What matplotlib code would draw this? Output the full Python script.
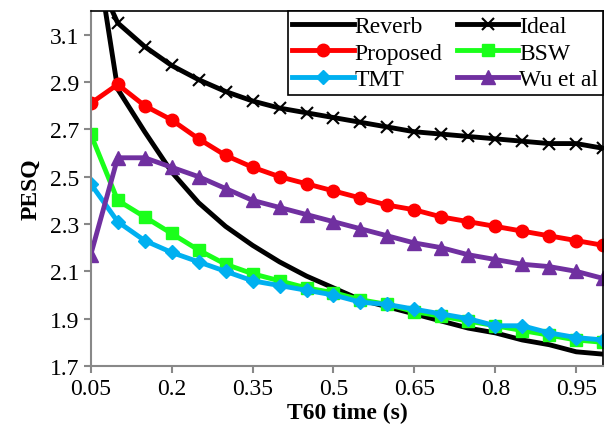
import numpy as np
import matplotlib.pyplot as plt

plt.rcParams['font.family'] = ['Liberation Serif', 'DejaVu Serif']

t60 = np.round(np.arange(0.05, 1.0001, 0.05), 2)

reverb = [3.60, 2.87, 2.69, 2.52, 2.39, 2.29, 2.21, 2.14, 2.08, 2.03,
          1.98, 1.95, 1.92, 1.89, 1.86, 1.84, 1.81, 1.79, 1.76, 1.75]
ideal = [3.40, 3.15, 3.05, 2.97, 2.91, 2.86, 2.82, 2.79, 2.77, 2.75,
         2.73, 2.71, 2.69, 2.68, 2.67, 2.66, 2.65, 2.64, 2.64, 2.62]
proposed = [2.81, 2.89, 2.80, 2.74, 2.66, 2.59, 2.54, 2.50, 2.47, 2.44,
            2.41, 2.38, 2.36, 2.33, 2.31, 2.29, 2.27, 2.25, 2.23, 2.21]
bsw = [2.68, 2.40, 2.33, 2.26, 2.19, 2.13, 2.09, 2.06, 2.03, 2.01,
       1.98, 1.96, 1.93, 1.91, 1.89, 1.87, 1.85, 1.83, 1.81, 1.80]
tmt = [2.47, 2.31, 2.23, 2.18, 2.14, 2.10, 2.06, 2.04, 2.02, 2.00,
       1.97, 1.96, 1.94, 1.92, 1.90, 1.87, 1.87, 1.84, 1.82, 1.81]
wu = [2.17, 2.58, 2.58, 2.54, 2.50, 2.45, 2.40, 2.37, 2.34, 2.31,
      2.28, 2.25, 2.22, 2.20, 2.17, 2.15, 2.13, 2.12, 2.10, 2.07]

xticks = [0.05, 0.2, 0.35, 0.5, 0.65, 0.8, 0.95]
xtick_labels = ['0.05', '0.2', '0.35', '0.5', '0.65', '0.8', '0.95']
yticks = [1.7, 1.9, 2.1, 2.3, 2.5, 2.7, 2.9, 3.1]

fig = plt.figure(figsize=(6.13, 4.31), dpi=100)
ax = fig.add_axes([0.148, 0.1485, 0.836, 0.8235])

lw = 3.5
h_rev, = ax.plot(t60, reverb, color='black', lw=lw, label='Reverb')
h_ide, = ax.plot(t60, ideal, color='black', lw=lw, marker='x', ms=9, mew=1.5, label='Ideal')
h_pro, = ax.plot(t60, proposed, color='#ff0000', lw=lw, marker='o', ms=9, label='Proposed')
h_bsw, = ax.plot(t60, bsw, color='#1aff1a', lw=lw, marker='s', ms=9, label='BSW')
h_tmt, = ax.plot(t60, tmt, color='#00b0f0', lw=lw, marker='D', ms=7, label='TMT')
h_wu, = ax.plot(t60, wu, color='#7030a0', lw=lw, marker='^', ms=10, label='Wu et al')

ax.set_xlim(0.05, 1.0)
ax.set_ylim(1.7, 3.2)
ax.set_xticks(xticks)
ax.set_xticklabels(xtick_labels)
ax.set_yticks(yticks)
ax.set_yticklabels(['%.1f' % v for v in yticks])
ax.tick_params(labelsize=17, direction='out', length=5, color='#888888', width=1.5)

for s in ['left', 'bottom']:
    ax.spines[s].set_color('#888888')
    ax.spines[s].set_linewidth(1.5)
for s in ['top', 'right']:
    ax.spines[s].set_color('black')
    ax.spines[s].set_linewidth(1.2)

ax.set_xlabel('T60 time (s)', fontsize=17, fontweight='bold', labelpad=2)
ax.set_ylabel('PESQ', fontsize=17, fontweight='bold', labelpad=6)

# row-wise order like the original: Reverb/Ideal, Proposed/BSW, TMT/Wu
handles = [h_rev, h_pro, h_tmt, h_ide, h_bsw, h_wu]
leg = ax.legend(handles=handles, labels=[h.get_label() for h in handles],
                ncol=2, loc='upper right', bbox_to_anchor=(1.0, 1.0), fontsize=17,
                frameon=True, fancybox=False, edgecolor='black', framealpha=1,
                handlelength=2.6, handletextpad=0.05, columnspacing=0.6,
                labelspacing=0.2, borderpad=0.2, borderaxespad=0)
leg.get_frame().set_linewidth(1.2)

fig.savefig('out.png', dpi=100)
